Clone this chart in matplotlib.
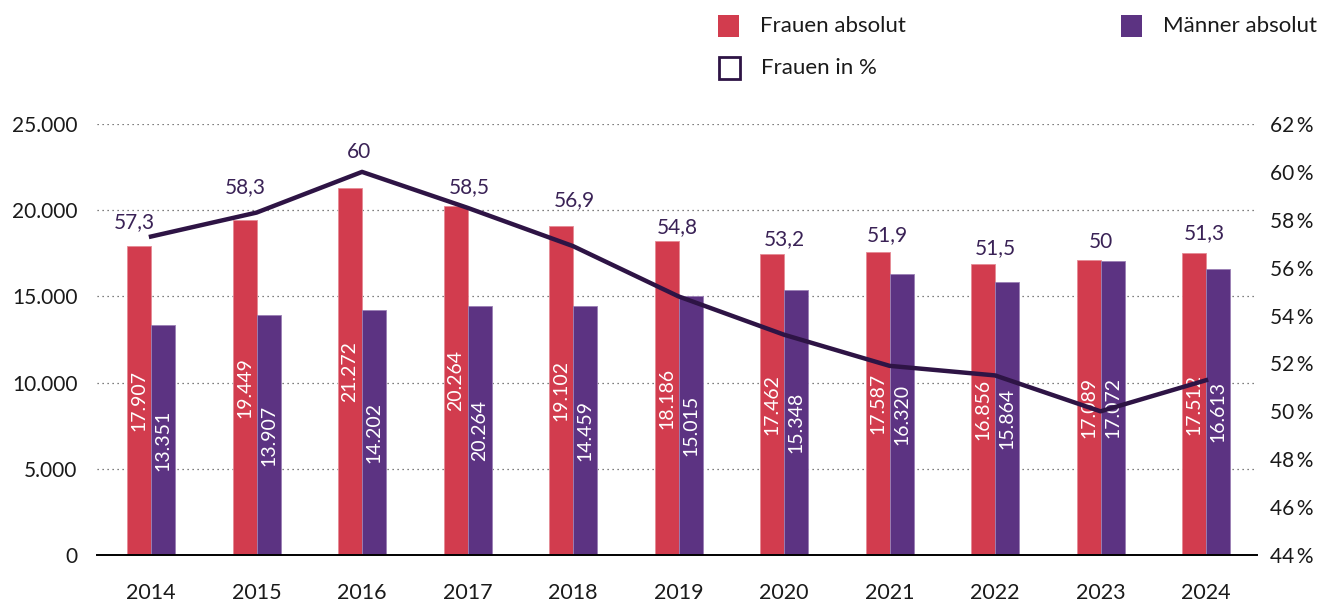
import numpy as np
import matplotlib
matplotlib.use("Agg")
import matplotlib.pyplot as plt
from matplotlib.patches import Rectangle

# ── Data ───────────────────────────────────────────────────────────────────────
YEARS = ["2014", "2015", "2016", "2017", "2018", "2019", "2020", "2021", "2022", "2023", "2024"]
FRAUEN = [17907, 19449, 21272, 20264, 19102, 18186, 17462, 17587, 16856, 17089, 17512]
MAENNER = [13351, 13907, 14202, 14440, 14459, 15015, 15348, 16320, 15864, 17072, 16613]
# label texts as printed in the original (2017 men label differs from bar height)
FRAUEN_LABELS = ["17.907", "19.449", "21.272", "20.264", "19.102", "18.186",
                 "17.462", "17.587", "16.856", "17.089", "17.512"]
MAENNER_LABELS = ["13.351", "13.907", "14.202", "20.264", "14.459", "15.015",
                  "15.348", "16.320", "15.864", "17.072", "16.613"]
FRAUEN_PCT = [57.3, 58.3, 60.0, 58.5, 56.9, 54.8, 53.2, 51.9, 51.5, 50.0, 51.3]
PCT_LABELS = ["57,3", "58,3", "60", "58,5", "56,9", "54,8", "53,2", "51,9", "51,5", "50", "51,3"]

# ── Style ──────────────────────────────────────────────────────────────────────
COLOR_F = "#d23c4e"
COLOR_M = "#5c3382"
COLOR_LINE = "#2e1445"
COLOR_PCT_TXT = "#3a2256"
TXT = "#1a1a1a"
FONT = "Lato"
FS = 15

# label offsets above the tallest bar (pixels), and small x shifts
PCT_DY = [24, 33, 36, 19, 26, 14, 15, 17, 16, 18, 20]
PCT_DX = [-17, -11, -3, 2, 1, -1, 0, -2, 0, 0, -2]

plt.rcParams.update({
    "font.family": [FONT, "DejaVu Sans"],
    "font.size": FS,
})

fig = plt.figure(figsize=(13.18, 6.04), dpi=100)
ax = fig.add_axes([97 / 1318, 49 / 604, (1257 - 97) / 1318, (555 - 124) / 604])

x = np.arange(len(YEARS))
w = 0.2275

bars_f = ax.bar(x - w / 2, FRAUEN, w, color=COLOR_F, edgecolor="#e58a95", linewidth=0.6, zorder=2)
bars_m = ax.bar(x + w / 2, MAENNER, w, color=COLOR_M, edgecolor="#9a80b5", linewidth=0.6, zorder=2)

for b, lab in zip(bars_f, FRAUEN_LABELS):
    ax.text(b.get_x() + b.get_width() / 2, b.get_height() / 2, lab, rotation=90,
            ha="center", va="center", color="white", fontsize=14, zorder=4)
for b, lab in zip(bars_m, MAENNER_LABELS):
    ax.text(b.get_x() + b.get_width() / 2, b.get_height() / 2, lab, rotation=90,
            ha="center", va="center", color="white", fontsize=14, zorder=4)

ax.set_xlim(-0.512, 10.483)
ax.set_ylim(0, 25000)
ax.set_yticks(np.arange(0, 25001, 5000))
ax.set_yticklabels(["0", "5.000", "10.000", "15.000", "20.000", "25.000"])
ax.set_xticks(x)
ax.set_xticklabels(YEARS)
ax.tick_params(axis="both", length=0, labelsize=FS, colors=TXT)
ax.tick_params(axis="x", pad=20, labelsize=15.5)
ax.tick_params(axis="y", pad=14)
for s in ["top", "right", "left"]:
    ax.spines[s].set_visible(False)
ax.spines["bottom"].set_color("black")
ax.spines["bottom"].set_linewidth(1.4)
ax.spines["bottom"].set_zorder(5)

for yv in range(5000, 25001, 5000):
    ax.axhline(yv, color="#555555", linestyle=(0, (1, 3)), linewidth=0.9, zorder=1)

# percentage labels above the group
for i, lab in enumerate(PCT_LABELS):
    top = max(FRAUEN[i], MAENNER[i])
    ax.annotate(lab, (x[i], top), xytext=(PCT_DX[i], PCT_DY[i]), textcoords="offset pixels",
                ha="center", va="center", color=COLOR_PCT_TXT, fontsize=FS, zorder=6)

ax2 = ax.twinx()
ax2.set_ylim(44, 62)
ax2.set_yticks(np.arange(44, 63, 2))
ax2.set_yticklabels([f"{v}\u2009%" for v in range(44, 63, 2)])
ax2.tick_params(axis="y", length=0, labelsize=FS, colors=TXT, pad=9)
for s in ax2.spines.values():
    s.set_visible(False)
ax2.plot(x, FRAUEN_PCT, color=COLOR_LINE, linewidth=3.2, solid_joinstyle="round", zorder=3)

# ── Legend (manual) ────────────────────────────────────────────────────────────
def legend_item(px, py, label, face, edge, lw=0):
    fig.patches.append(Rectangle((px / 1318, (604 - py - 10.5) / 604), 21 / 1318, 21 / 604,
                                 transform=fig.transFigure, facecolor=face,
                                 edgecolor=edge, linewidth=lw))
    fig.text((px + 42) / 1318, (604 - py) / 604, label, ha="left", va="center",
             fontsize=16, color=TXT)

legend_item(718, 26, "Frauen absolut", COLOR_F, COLOR_F)
legend_item(1121, 26, "Männer absolut", COLOR_M, COLOR_M)
legend_item(719, 68, "Frauen in %", "white", COLOR_LINE, lw=2)

fig.savefig("out.png", dpi=100)
